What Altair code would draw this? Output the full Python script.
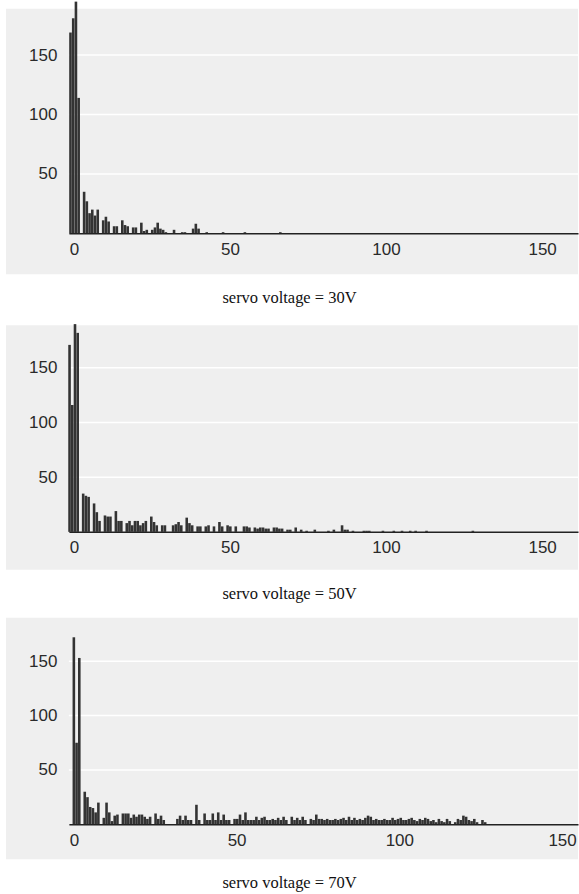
import altair as alt
import pandas as pd

# ---------------- data ----------------
TITLES = ["servo voltage = 30V", "servo voltage = 50V", "servo voltage = 70V"]
X_TICKS = [0, 50, 100, 150]
Y_TICKS = [50, 100, 150]

# counts per bin, in bin order
P1_COUNTS = [169, 181, 195, 114, 0, 35, 27, 17, 20, 15, 20, 0, 11, 14, 10, 0,
             6, 6, 0, 11, 7, 6, 0, 5, 5, 0, 9, 2, 3, 0, 3, 5, 9, 4, 3, 1,
             0, 0, 3, 0, 0, 1, 1, 0, 0, 4, 8, 4, 0, 0, 1, 0, 0, 0, 0, 0,
             1, 0, 0, 0, 0, 0, 0, 0, 1, 0, 0, 0, 0, 0, 0, 0, 0, 0, 0, 0,
             0, 1]

P2_COUNTS = [171, 116, 190, 182, 0, 35, 33, 32, 0, 26, 18, 10, 0, 15, 14, 14,
             0, 19, 10, 10, 0, 8, 10, 6, 10, 10, 6, 8, 10, 0, 14, 9,
             6, 0, 6, 6, 0, 0, 6, 7, 9, 6, 0, 13, 8, 6, 0, 5,
             5, 0, 5, 6, 0, 5, 0, 9, 5, 0, 6, 5, 0, 5, 0, 0,
             5, 5, 4, 0, 4, 3, 4, 4, 3, 3, 0, 4, 4, 3, 3, 0,
             2, 2, 0, 4, 0, 2, 0, 1, 0, 0, 2, 0, 0, 0, 0, 1,
             0, 2, 0, 0, 6, 2, 2, 0, 1, 0, 0, 0, 1, 1, 1, 0,
             0, 0, 0, 1, 0, 0, 0, 1, 0, 0, 1, 0, 0, 1, 0, 1,
             0, 0, 0, 1, 0, 0, 0, 0, 0, 0, 0, 0, 0, 0, 0, 0,
             0, 0, 0, 0, 1]

P3_COUNTS = [172, 75, 153, 0, 30, 25, 16, 15, 11, 20, 0, 6, 20, 11, 3, 8,
             9, 0, 10, 10, 10, 6, 9, 7, 9, 9, 7, 5, 7, 0, 10, 5,
             8, 4, 0, 0, 0, 0, 5, 8, 4, 8, 4, 4, 0, 18, 4, 0,
             10, 4, 4, 10, 4, 11, 4, 9, 4, 4, 0, 5, 5, 9, 4, 11,
             4, 4, 4, 7, 4, 6, 7, 4, 4, 5, 4, 6, 4, 7, 4, 0,
             7, 4, 6, 4, 7, 4, 0, 5, 4, 9, 5, 5, 4, 5, 4, 4,
             5, 4, 5, 6, 4, 7, 4, 6, 4, 5, 4, 6, 8, 7, 4, 5,
             4, 4, 5, 4, 4, 6, 4, 5, 6, 4, 4, 5, 6, 4, 3, 5,
             4, 6, 5, 3, 4, 2, 5, 3, 2, 5, 3, 0, 2, 5, 4, 8,
             7, 4, 3, 5, 2, 0, 4, 2]

COUNTS = [P1_COUNTS, P2_COUNTS, P3_COUNTS]
BIN_START = [-1.5, -1.8, -0.4]
BIN_WIDTH = [0.873, 0.873, 0.837]
X_DOMAIN = [[-1.6, 161.5], [-1.6, 161.5], [-1.53, 154.9]]
Y_DOMAIN = [[0, 189], [0, 189], [0, 190]]

# ---------------- layout ----------------
W = 510
HEIGHTS = [225, 207, 207]
BLOCK_TOP = [-7, 0, 0]
BLOCK_BOTTOM = [315, 293, 279]
GRAY_BOTTOM = [266, 245, 242]
TITLE_Y = [295, 274, 271]
LEFT = -63

BG = "#efefef"
BAR = "#333333"
FONT = "Liberation Sans"


def panel(i):
    counts = COUNTS[i]
    df = pd.DataFrame({"k": list(range(len(counts))), "count": counts})
    df = df[df["count"] > 0].copy()
    df["x0"] = BIN_START[i] + df["k"] * BIN_WIDTH[i]
    df["x1"] = df["x0"] + BIN_WIDTH[i] * 0.95

    xs = alt.Scale(domain=X_DOMAIN[i], nice=False, zero=False)
    ys = alt.Scale(domain=Y_DOMAIN[i], nice=False)
    xaxis = alt.Axis(values=X_TICKS, title=None, grid=False, ticks=False,
                     labelFontSize=17, labelFont=FONT, labelColor="#2a2a2a",
                     labelPadding=8, labelFlush=False, zindex=1,
                     domainColor="#222222", domainWidth=1.5)
    yaxis = alt.Axis(values=Y_TICKS, title=None, grid=False, ticks=False,
                     domain=False, labelFontSize=17, labelFont=FONT,
                     labelColor="#2a2a2a", labelPadding=12, zindex=1)

    one = pd.DataFrame({"t": [TITLES[i]]})
    block = alt.Chart(one).mark_rect(fill="white", strokeWidth=0).encode(
        x=alt.value(LEFT), x2=alt.value(W),
        y=alt.value(BLOCK_TOP[i]), y2=alt.value(BLOCK_BOTTOM[i]))
    gray = alt.Chart(one).mark_rect(fill=BG, strokeWidth=0).encode(
        x=alt.value(LEFT), x2=alt.value(W),
        y=alt.value(0), y2=alt.value(GRAY_BOTTOM[i]))
    grid = alt.Chart(pd.DataFrame({"v": Y_TICKS})).mark_rule(
        color="white", strokeWidth=1.5).encode(
        y=alt.Y("v:Q", scale=ys, axis=yaxis))
    bars = alt.Chart(df).mark_rect(color=BAR, strokeWidth=0).encode(
        x=alt.X("x0:Q", scale=xs, axis=xaxis),
        x2="x1:Q",
        y=alt.Y("count:Q", scale=ys, axis=yaxis),
        y2=alt.datum(0))
    title = alt.Chart(one).mark_text(
        font="Liberation Serif", fontSize=16.5, align="center",
        baseline="alphabetic", color="#111111").encode(
        x=alt.value(221), y=alt.value(TITLE_Y[i]), text="t:N")
    return alt.layer(block, gray, grid, bars, title).properties(
        width=W, height=HEIGHTS[i])


chart = alt.vconcat(panel(0), panel(1), panel(2), spacing=0).properties(
    padding={"left": 6, "top": 0, "right": 0, "bottom": 0},
    background="white",
).configure_view(strokeWidth=0)

chart.save("out.html", embed_options={"renderer": "svg", "actions": False})
